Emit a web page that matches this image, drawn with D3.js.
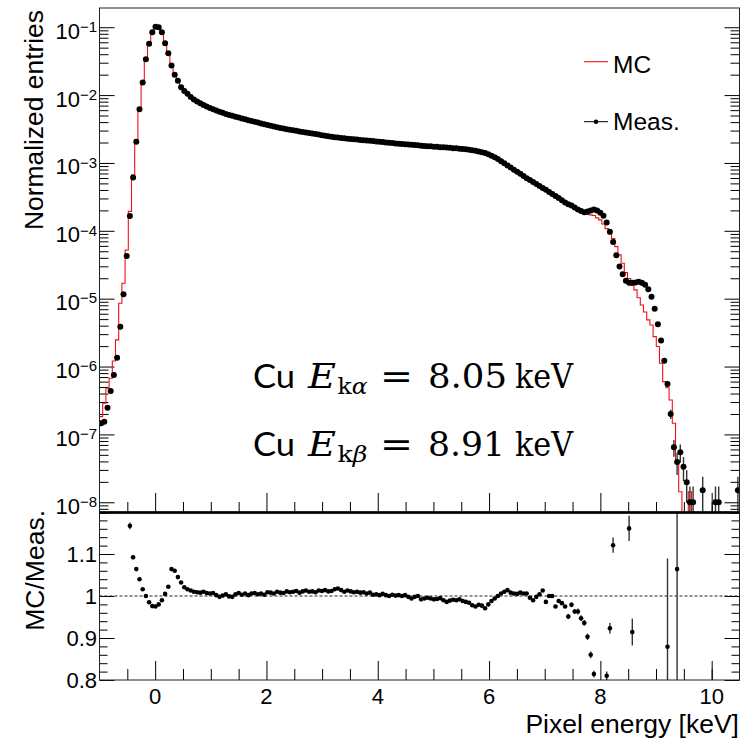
<!DOCTYPE html>
<html>
<head>
<meta charset="utf-8">
<script src="https://cdn.jsdelivr.net/npm/d3@7"></script>
<style>
  html, body { margin: 0; padding: 0; background: #fff; }
  svg { display: block; }
  text { font-family: "Liberation Sans", Arial, Helvetica, sans-serif; fill: #000; }
</style>
</head>
<body>
<svg id="chart" width="743" height="741"></svg>
<script>
// Histogram binning: 200 bins between -1 and 10.5 keV
const energyMin = -1;
const energyMax = 10.5;
const binCount = 200;

// Measured spectrum (normalized entries per bin, 0 = empty bin)
const measured = [
  1.46e-7, 1.54e-7, 2.48e-7, 4.37e-7, 7.5e-7, 1.35e-6, 3.87e-6, 1.16e-5, 4.27e-5, 1.66e-4,
  6.08e-4, 2.06e-3, 6.19e-3, 1.53e-2, 3.38e-2, 5.73e-2, 8.44e-2, 0.102, 0.100, 8.44e-2,
  5.8e-2, 4.14e-2, 2.72e-2, 2.0e-2, 1.62e-2, 1.30e-2, 1.15e-2, 1.05e-2, 9.4e-3, 8.63e-3,
  8.07e-3, 7.59e-3, 7.16e-3, 6.81e-3, 6.47e-3, 6.17e-3, 5.92e-3, 5.69e-3, 5.48e-3, 5.28e-3,
  5.10e-3, 4.97e-3, 4.80e-3, 4.66e-3, 4.52e-3, 4.40e-3, 4.26e-3, 4.15e-3, 4.04e-3, 3.93e-3,
  3.82e-3, 3.72e-3, 3.62e-3, 3.53e-3, 3.44e-3, 3.36e-3, 3.28e-3, 3.21e-3, 3.14e-3, 3.09e-3,
  3.03e-3, 2.97e-3, 2.91e-3, 2.86e-3, 2.82e-3, 2.77e-3, 2.72e-3, 2.68e-3, 2.62e-3, 2.57e-3,
  2.52e-3, 2.48e-3, 2.43e-3, 2.39e-3, 2.37e-3, 2.34e-3, 2.31e-3, 2.28e-3, 2.25e-3, 2.23e-3,
  2.21e-3, 2.18e-3, 2.16e-3, 2.14e-3, 2.12e-3, 2.10e-3, 2.07e-3, 2.06e-3, 2.03e-3, 2.00e-3,
  1.98e-3, 1.96e-3, 1.94e-3, 1.92e-3, 1.90e-3, 1.89e-3, 1.87e-3, 1.85e-3, 1.84e-3, 1.82e-3,
  1.80e-3, 1.78e-3, 1.77e-3, 1.76e-3, 1.74e-3, 1.73e-3, 1.71e-3, 1.70e-3, 1.69e-3, 1.67e-3,
  1.65e-3, 1.64e-3, 1.62e-3, 1.60e-3, 1.59e-3, 1.57e-3, 1.54e-3, 1.51e-3, 1.48e-3, 1.44e-3,
  1.40e-3, 1.34e-3, 1.28e-3, 1.21e-3, 1.14e-3, 1.06e-3, 9.9e-4, 9.2e-4, 8.6e-4, 7.97e-4,
  7.43e-4, 6.92e-4, 6.44e-4, 5.97e-4, 5.62e-4, 5.25e-4, 4.91e-4, 4.58e-4, 4.28e-4, 4.02e-4,
  3.74e-4, 3.50e-4, 3.27e-4, 3.05e-4, 2.82e-4, 2.62e-4, 2.47e-4, 2.37e-4, 2.21e-4, 2.07e-4,
  1.96e-4, 1.88e-4, 1.93e-4, 2.0e-4, 2.07e-4, 2.0e-4, 1.85e-4, 1.67e-4, 1.33e-4, 9.72e-5,
  6.86e-5, 4.37e-5, 2.97e-5, 2.29e-5, 1.83e-5, 1.71e-5, 1.72e-5, 1.73e-5, 1.77e-5, 1.72e-5,
  1.6e-5, 1.38e-5, 1.07e-5, 7.13e-6, 4.2e-6, 2.41e-6, 1.22e-6, 5.54e-7, 2.0e-7, 6.47e-8,
  3.93e-8, 5.46e-8, 3.35e-8, 1.97e-8, 1e-8, 1e-8, 0, 0, 1.5e-8, 0,
  0, 0, 1e-8, 1e-8, 0, 0, 0, 0, 0, 1.5e-8
];

// MC/Meas. ratio per bin (null where the ratio lies outside 0.8 - 1.2 or is undefined)
const ratio = [
  null, null, null, null, null, null, null, null, null, 1.167,
  1.092, 1.064, 1.040, 1.016, 1.000, 0.985, 0.976, 0.975, 0.980, 0.990,
  1.005, 1.022, 1.064, 1.060, 1.045, 1.032, 1.021, 1.016, 1.013, 1.010,
  1.009, 1.008, 1.010, 1.007, 1.006, 1.007, 1.002, 0.998, 1.001, 1.004,
  0.999, 0.998, 1.004, 1.007, 1.003, 1.006, 1.002, 1.006, 1.007, 1.004,
  1.006, 1.003, 1.009, 1.008, 1.006, 1.010, 1.008, 1.007, 1.011, 1.009,
  1.010, 1.012, 1.008, 1.011, 1.013, 1.010, 1.011, 1.009, 1.013, 1.012,
  1.014, 1.011, 1.012, 1.016, 1.018, 1.014, 1.010, 1.013, 1.011, 1.009,
  1.010, 1.008, 1.009, 1.006, 1.008, 1.003, 1.004, 1.002, 1.005, 1.002,
  1.000, 1.003, 1.001, 1.002, 1.000, 1.002, 0.998, 0.994, 0.998, 1.000,
  0.992, 0.994, 0.996, 0.994, 0.992, 0.993, 0.995, 0.990, 0.986, 0.989,
  0.991, 0.990, 0.992, 0.988, 0.986, 0.984, 0.978, 0.975, 0.979, 0.977,
  0.971, 0.980, 0.988, 0.994, 1.000, 1.006, 1.010, 1.014, 1.008, 1.006,
  1.005, 1.008, 1.006, 1.006, 0.996, 0.990, 0.998, 1.004, 1.013, 0.986,
  1.000, 1.000, 0.975, 0.988, 0.983, 0.975, 0.951, 0.979, 0.963, 0.963,
  0.947, 0.936, 0.903, 0.860, 0.814, null, null, null, 0.810, 0.923,
  1.121, null, null, null, null, 1.161, 0.914, null, null, null,
  null, null, null, null, null, null, null, 0.879, null, null,
  1.064, null, null, null, null, null, null, null, null, null,
  null, null, null, null, null, null, null, null, null, null
];

// MC in bins whose ratio is not shown (null: MC = Meas. x ratio)
const simulated = [
  1.83e-7, 2.88e-7, 4.79e-7, 6.73e-7, 1.21e-6, 2.47e-6, 8.57e-6, 1.69e-5, 5.22e-5, null,
  null, null, null, null, null, null, null, null, null, null,
  null, null, null, null, null, null, null, null, null, null,
  null, null, null, null, null, null, null, null, null, null,
  null, null, null, null, null, null, null, null, null, null,
  null, null, null, null, null, null, null, null, null, null,
  null, null, null, null, null, null, null, null, null, null,
  null, null, null, null, null, null, null, null, null, null,
  null, null, null, null, null, null, null, null, null, null,
  null, null, null, null, null, null, null, null, null, null,
  null, null, null, null, null, null, null, null, null, null,
  null, null, null, null, null, null, null, null, null, null,
  null, null, null, null, null, null, null, null, null, null,
  null, null, null, null, null, null, null, null, null, null,
  null, null, null, null, null, null, null, null, null, null,
  null, null, null, null, null, 1.55e-4, 1.45e-4, 1.26e-4, null, null,
  null, 5.85e-5, 4.42e-5, 3.33e-5, 2.42e-5, null, null, 1.35e-5, 1.03e-5, 8.09e-6,
  6.38e-6, 4.87e-6, 4.10e-6, 2.76e-6, 1.97e-6, 1.12e-6, 5.99e-7, null, 3.22e-7, 1.46e-7,
  null, 1.43e-8, 0, 0, 1.43e-8, 0, 0, 0, 0, 0,
  0, 0, 0, 0, 0, 0, 0, 0, 0, 0
];

// Statistical uncertainties where they stand out from the markers
const measuredErrorBins   = [176, 177, 178, 179, 180, 181, 182, 183, 184, 185, 188, 192, 193, 199];
const measuredErrorValues = [7.8e-8, 5.3e-8, 3.16e-8, 1.8e-8, 1.4e-8, 1.65e-8, 1.29e-8, 0.99e-8,
                             0.71e-8, 0.71e-8, 0.87e-8, 0.71e-8, 0.71e-8, 0.87e-8];
const ratioErrorBins   = [9, 146, 147, 148, 149, 150, 151, 152, 153, 154, 158, 159, 160, 165, 166, 177, 180];
const ratioErrorValues = [0.008, 0.006, 0.006, 0.006, 0.007, 0.007, 0.007, 0.008, 0.008, 0.008,
                          0.010, 0.013, 0.018, 0.030, 0.032, 0.21, 0.35];

// Axis ticks
const xMajorTicks = [0, 2, 4, 6, 8, 10];
const xMinorTicks = [-0.5, 0.5, 1, 1.5, 2.5, 3, 3.5, 4.5, 5, 5.5, 6.5, 7, 7.5, 8.5, 9, 9.5, 10];
const logDecades = [-8, -7, -6, -5, -4, -3, -2, -1];
const ratioMajorTicks = [0.8, 0.9, 1, 1.1, 1.2];
const ratioTickLabels = ["0.8", "0.9", "1", "1.1"];

// ---------------------------------------------------------------------------
const svg = d3.select("#chart");
const binWidth = (energyMax - energyMin) / binCount;
const bins = d3.range(binCount).map(i => {
  const r = ratio[i];
  const mc = simulated[i] != null ? simulated[i] : measured[i] * r;
  return {
    i,
    lo: energyMin + i * binWidth,
    center: energyMin + (i + 0.5) * binWidth,
    meas: measured[i],
    mc,
    ratio: r
  };
});

const left = 99.5, right = 739.5;
const topY0 = 8, topY1 = 513, botY0 = 512, botY1 = 680;

const x = d3.scaleLinear().domain([energyMin, energyMax]).range([left, right]);
const y = d3.scaleLog().domain([6.95e-9, 0.192]).range([topY1, topY0]);
const yr = d3.scaleLinear().domain([0.8, 1.2]).range([botY1, botY0]);

const defs = svg.append("defs");
defs.append("clipPath").attr("id", "clipTop").append("rect")
  .attr("x", left).attr("y", topY0).attr("width", right - left).attr("height", topY1 - topY0);
defs.append("clipPath").attr("id", "clipBot").append("rect")
  .attr("x", left).attr("y", botY0).attr("width", right - left).attr("height", botY1 - botY0);

function cleanAxis(g) {
  g.select(".domain").remove();
  g.attr("color", "#000");
  g.selectAll(".tick line").attr("stroke-width", 1);
}

// ---------------- top panel axes ----------------
const minorLog = [];
logDecades.concat([-9]).forEach(p => {
  for (let k = 2; k <= 9; k++) {
    const v = k * Math.pow(10, p);
    if (v > y.domain()[0] && v < y.domain()[1]) minorLog.push(v);
  }
});
const majorLog = logDecades.map(p => Math.pow(10, p));

svg.append("g").attr("transform", `translate(${left},0)`)
  .call(d3.axisLeft(y).tickValues(majorLog).tickSize(-15).tickFormat("")).call(cleanAxis);
svg.append("g").attr("transform", `translate(${left},0)`)
  .call(d3.axisLeft(y).tickValues(minorLog).tickSize(-9).tickFormat("")).call(cleanAxis);
svg.append("g").attr("transform", `translate(${right},0)`)
  .call(d3.axisRight(y).tickValues(majorLog).tickSize(-15).tickFormat("")).call(cleanAxis);
svg.append("g").attr("transform", `translate(${right},0)`)
  .call(d3.axisRight(y).tickValues(minorLog).tickSize(-9).tickFormat("")).call(cleanAxis);

svg.append("g").attr("transform", `translate(0,${topY1})`)
  .call(d3.axisBottom(x).tickValues(xMajorTicks).tickSize(-20).tickFormat("")).call(cleanAxis);
svg.append("g").attr("transform", `translate(0,${topY1})`)
  .call(d3.axisBottom(x).tickValues(xMinorTicks).tickSize(-11).tickFormat("")).call(cleanAxis);

// log labels 10^n
const logLabels = svg.append("g");
logDecades.forEach(p => {
  const t = logLabels.append("text")
    .attr("x", 97).attr("y", y(Math.pow(10, p)) + 11.5)
    .attr("text-anchor", "end").attr("font-size", 22);
  t.append("tspan").text("10");
  t.append("tspan").attr("dy", -6.8).attr("font-size", 15).text("\u2212" + Math.abs(p));
});

// ---------------- bottom panel axes ----------------
const ratioMinor = d3.range(0.82, 1.2, 0.02).filter(v => Math.abs(v * 10 - Math.round(v * 10)) > 1e-6);
svg.append("g").attr("transform", `translate(${left},0)`)
  .call(d3.axisLeft(yr).tickValues(ratioMajorTicks).tickSize(-15).tickFormat("")).call(cleanAxis);
svg.append("g").attr("transform", `translate(${left},0)`)
  .call(d3.axisLeft(yr).tickValues(ratioMinor).tickSize(-8).tickFormat("")).call(cleanAxis);
svg.append("g").attr("transform", `translate(${right},0)`)
  .call(d3.axisRight(yr).tickValues(ratioMajorTicks).tickSize(-15).tickFormat("")).call(cleanAxis);
svg.append("g").attr("transform", `translate(${right},0)`)
  .call(d3.axisRight(yr).tickValues(ratioMinor).tickSize(-8).tickFormat("")).call(cleanAxis);
svg.append("g").attr("transform", `translate(0,${botY1})`)
  .call(d3.axisBottom(x).tickValues(xMajorTicks).tickSize(-19).tickFormat("")).call(cleanAxis);
svg.append("g").attr("transform", `translate(0,${botY1})`)
  .call(d3.axisBottom(x).tickValues(xMinorTicks).tickSize(-11).tickFormat("")).call(cleanAxis);

ratioTickLabels.forEach((lab, k) => {
  svg.append("text").attr("x", 97).attr("y", yr(ratioMajorTicks[k]) + 7.5)
    .attr("text-anchor", "end").attr("font-size", 22).text(lab);
});
xMajorTicks.forEach(v => {
  svg.append("text").attr("x", x(v)).attr("y", 704)
    .attr("text-anchor", "middle").attr("font-size", 22).text(v);
});

// reference line at ratio 1
svg.append("line")
  .attr("x1", left).attr("x2", right).attr("y1", yr(1)).attr("y2", yr(1))
  .attr("stroke", "#222").attr("stroke-width", 1).attr("stroke-dasharray", "3,2");

// ---------------- MC histogram ----------------
const floorY = topY1 + 2;
const stepPts = bins.map(b => ({ e: b.lo, v: b.mc }));
stepPts.push({ e: energyMax, v: bins[binCount - 1].mc });
const stepLine = d3.line()
  .curve(d3.curveStepAfter)
  .x(d => x(d.e))
  .y(d => (d.v > 0 ? Math.min(y(d.v), floorY) : floorY));
svg.append("path")
  .attr("clip-path", "url(#clipTop)")
  .attr("d", stepLine(stepPts))
  .attr("fill", "none").attr("stroke", "#f01010").attr("stroke-width", 1.1);

// ---------------- measured points ----------------
const gMeas = svg.append("g").attr("clip-path", "url(#clipTop)");
gMeas.selectAll("line.err")
  .data(measuredErrorBins.map((bi, k) => ({ b: bins[bi], s: measuredErrorValues[k] })))
  .join("line").attr("class", "err")
  .attr("x1", d => x(d.b.center)).attr("x2", d => x(d.b.center))
  .attr("y1", d => y(d.b.meas + d.s))
  .attr("y2", d => (d.b.meas - d.s > 0 ? y(d.b.meas - d.s) : floorY))
  .attr("stroke", "#333").attr("stroke-width", 1.4);
gMeas.selectAll("circle")
  .data(bins.filter(b => b.meas > 0))
  .join("circle")
  .attr("cx", d => x(d.center)).attr("cy", d => y(d.meas)).attr("r", 3)
  .attr("fill", "#000");

// ---------------- ratio points ----------------
const gRat = svg.append("g").attr("clip-path", "url(#clipBot)");
gRat.selectAll("line.err")
  .data(ratioErrorBins.map((bi, k) => ({ b: bins[bi], s: ratioErrorValues[k] })))
  .join("line").attr("class", "err")
  .attr("x1", d => x(d.b.center)).attr("x2", d => x(d.b.center))
  .attr("y1", d => yr(d.b.ratio + d.s)).attr("y2", d => yr(d.b.ratio - d.s))
  .attr("stroke", "#333").attr("stroke-width", 1.4);
gRat.selectAll("circle")
  .data(bins.filter(b => b.ratio != null && b.ratio >= 0.8 && b.ratio <= 1.2))
  .join("circle")
  .attr("cx", d => x(d.center)).attr("cy", d => yr(d.ratio)).attr("r", 2.3)
  .attr("fill", "#000");

// ---------------- frames ----------------
svg.append("rect").attr("x", left).attr("y", topY0)
  .attr("width", right - left).attr("height", topY1 - topY0)
  .attr("fill", "none").attr("stroke", "#222").attr("stroke-width", 1);
svg.append("rect").attr("x", left).attr("y", botY0)
  .attr("width", right - left).attr("height", botY1 - botY0)
  .attr("fill", "none").attr("stroke", "#222").attr("stroke-width", 1);
svg.append("line").attr("x1", left).attr("x2", right)
  .attr("y1", 512.5).attr("y2", 512.5)
  .attr("stroke", "#000").attr("stroke-width", 2.5);

// ---------------- axis titles ----------------
svg.append("text").attr("transform", "translate(43,10) rotate(-90)")
  .attr("text-anchor", "end").attr("font-size", 26.4).text("Normalized entries");
svg.append("text").attr("transform", "translate(44,510) rotate(-90)")
  .attr("text-anchor", "end").attr("font-size", 26.5).text("MC/Meas.");
svg.append("text").attr("x", 739).attr("y", 733)
  .attr("text-anchor", "end").attr("font-size", 26.5).text("Pixel energy [keV]");

// ---------------- legend ----------------
const leg = svg.append("g");
leg.append("line").attr("x1", 584).attr("x2", 608).attr("y1", 61.7).attr("y2", 61.7)
  .attr("stroke", "#f01010").attr("stroke-width", 1.1);
leg.append("text").attr("x", 613).attr("y", 72.5).attr("font-size", 24.5).text("MC");
leg.append("line").attr("x1", 584).attr("x2", 608).attr("y1", 121.7).attr("y2", 121.7)
  .attr("stroke", "#000").attr("stroke-width", 1);
leg.append("circle").attr("cx", 596).attr("cy", 121.7).attr("r", 2.3).attr("fill", "#000");
leg.append("text").attr("x", 613).attr("y", 130).attr("font-size", 24.5).text("Meas.");

// ---------------- Cu K-line annotation ----------------
const serif = "'DejaVu Serif', 'Liberation Serif', serif";
function kLine(baseline, greek, valueText, valueLen) {
  const g = svg.append("g");
  g.append("text").attr("x", 253).attr("y", baseline)
    .style("font-family", "Lato, 'Open Sans', sans-serif").attr("font-size", 32)
    .attr("textLength", 42).attr("lengthAdjust", "spacingAndGlyphs").text("Cu");
  g.append("text").attr("x", 308).attr("y", baseline)
    .style("font-family", serif).style("font-style", "italic").attr("font-size", 34)
    .attr("textLength", 28).attr("lengthAdjust", "spacingAndGlyphs").text("E");
  const sub = g.append("text").attr("x", 337.5).attr("y", baseline + 5.5)
    .style("font-family", serif).attr("font-size", 22)
    .attr("textLength", 30).attr("lengthAdjust", "spacingAndGlyphs");
  sub.append("tspan").text("k");
  sub.append("tspan").style("font-style", "italic").text(greek);
  g.append("text").attr("x", 380).attr("y", baseline)
    .style("font-family", serif).attr("font-size", 34)
    .attr("textLength", 33).attr("lengthAdjust", "spacingAndGlyphs").text("=");
  g.append("text").attr("x", 428).attr("y", baseline)
    .style("font-family", serif).attr("font-size", 34)
    .attr("textLength", valueLen).attr("lengthAdjust", "spacingAndGlyphs").text(valueText);
  g.append("text").attr("x", 515).attr("y", baseline)
    .style("font-family", serif).attr("font-size", 34)
    .attr("textLength", 58).attr("lengthAdjust", "spacingAndGlyphs").text("keV");
}
kLine(388.3, "\u03b1", "8.05", 79);
kLine(456, "\u03b2", "8.91", 77);
</script>
</body>
</html>
